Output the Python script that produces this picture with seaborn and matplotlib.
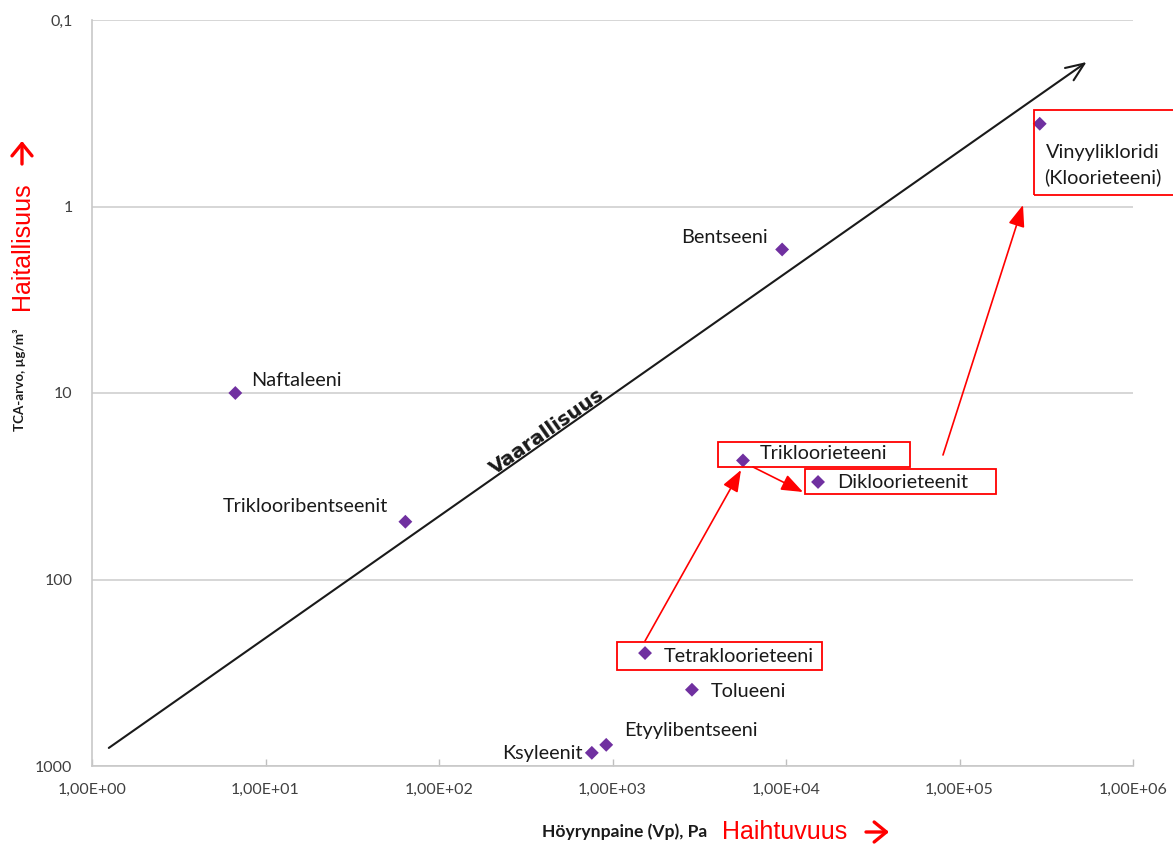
import matplotlib
matplotlib.use("Agg")
import matplotlib.pyplot as plt
import matplotlib.ticker as mticker
from matplotlib.patches import Rectangle
import seaborn as sns
import pandas as pd

# Compounds: vapour pressure (Pa) vs. indoor-air TCA value (µg/m³)
compounds = ["Naftaleeni", "Triklooribentseenit", "Bentseeni",
             "Vinyylikloridi\n(Kloorieteeni)", "Trikloorieteeni", "Dikloorieteenit",
             "Tetrakloorieteeni", "Tolueeni", "Etyylibentseeni", "Ksyleenit"]
vapour_pressure = [6.7, 64, 9500, 290000, 5650, 15300, 1540, 2870, 920, 760]
tca_value = [10, 49, 1.7, 0.36, 23, 30, 248, 390, 770, 850]

# label offsets in pixels (dx, dy up) and alignment
label_offsets = [(16, 13, "left"), (-17, 15, "right"), (-14, 12, "right"),
                 (63, -41, "center"), (17, 7, "left"), (19, -1, "left"),
                 (19, -3, "left"), (19, -2, "left"), (18, 14, "left"),
                 (-9, -1, "right")]

x_ticks = [1, 10, 100, 1000, 10000, 100000, 1000000]
x_tick_labels = ["1,00E+00", "1,00E+01", "1,00E+02", "1,00E+03",
                 "1,00E+04", "1,00E+05", "1,00E+06"]
y_ticks = [0.1, 1, 10, 100, 1000]
y_tick_labels = ["0,1", "1", "10", "100", "1000"]

df = pd.DataFrame({"compound": compounds, "vp": vapour_pressure, "tca": tca_value})

sns.set_theme(style="white")
plt.rcParams["font.family"] = ["Lato", "DejaVu Sans"]

W, H = 1173, 844
fig = plt.figure(figsize=(W / 100, H / 100), dpi=100)
ax = fig.add_axes([92 / W, 1 - 766 / H, (1133 - 92) / W, (766 - 20) / H])

sns.scatterplot(data=df, x="vp", y="tca", marker="D", s=50, color="#7030A0",
                edgecolor="none", ax=ax, zorder=5, clip_on=False)

ax.set_xscale("log")
ax.set_yscale("log")
ax.set_xlim(1, 1e6)
ax.set_ylim(1000, 0.1)

ax.xaxis.set_major_locator(mticker.FixedLocator(x_ticks))
ax.xaxis.set_major_formatter(mticker.FixedFormatter(x_tick_labels))
ax.xaxis.set_minor_locator(mticker.NullLocator())
ax.yaxis.set_major_locator(mticker.FixedLocator(y_ticks))
ax.yaxis.set_major_formatter(mticker.FixedFormatter(y_tick_labels))
ax.yaxis.set_minor_locator(mticker.NullLocator())

ax.tick_params(axis="x", direction="in", length=5, width=1, color="#bfbfbf",
               pad=12, labelcolor="#404040", bottom=True)
ax.tick_params(axis="y", length=0, pad=14, labelcolor="#404040")
for lab in ax.get_xticklabels() + ax.get_yticklabels():
    lab.set_fontfamily(["Lato", "DejaVu Sans"])
    lab.set_fontsize(11.5)

ax.grid(axis="y", color="#d0d0d0", linewidth=1.2)
ax.grid(axis="x", visible=False)
for side in ["top", "right"]:
    ax.spines[side].set_visible(False)
for side in ["left", "bottom"]:
    ax.spines[side].set_color("#c8c8c8")
    ax.spines[side].set_linewidth(1.2)
ax.set_xlabel("")
ax.set_ylabel("")

# compound labels
for (name, vp, tca), (dx, dy, ha) in zip(zip(compounds, vapour_pressure, tca_value), label_offsets):
    ax.annotate(name, xy=(vp, tca), xytext=(dx * 0.72, dy * 0.72),
                textcoords="offset points", ha=ha, va="center",
                fontsize=14.3, color="#1a1a1a", linespacing=1.5, zorder=6)

# diagonal hazard arrow
ax.annotate("", xy=(5.4e5, 0.168), xytext=(1.25, 800), xycoords="data",
            arrowprops=dict(arrowstyle="->,head_length=1.1,head_width=0.45",
                            color="#1a1a1a", lw=1.5, shrinkA=0, shrinkB=0),
            annotation_clip=False, zorder=4)
fig.text(550 / W, 1 - 436 / H, "Vaarallisuus", rotation=35.05, rotation_mode="anchor",
         ha="center", va="baseline", fontsize=14.2, fontweight="bold",
         family=["DejaVu Sans"], color="#1a1a1a")

# red highlight boxes (figure pixels)
boxes = [(718, 442, 910, 467), (805, 469, 996, 494),
         (617, 642, 822, 670), (1034, 110, 1180, 195)]
for x0, y0, x1, y1 in boxes:
    fig.patches.append(Rectangle((x0 / W, 1 - y1 / H), (x1 - x0) / W, (y1 - y0) / H,
                                 transform=fig.transFigure, fill=False,
                                 edgecolor="#ff0000", linewidth=1.3, zorder=7))

# red arrows linking related chlorinated compounds
red_arrows = [((645, 641), (741, 470)), ((753, 467), (803, 492)), ((943, 455), (1023, 205))]
for (sx, sy), (ex, ey) in red_arrows:
    ax.annotate("", xy=(ex, H - ey), xytext=(sx, H - sy),
                xycoords="figure pixels", textcoords="figure pixels",
                arrowprops=dict(arrowstyle="-|>,head_length=1.1,head_width=0.42",
                                color="#ff0000", lw=1.2, shrinkA=0, shrinkB=0),
                annotation_clip=False, zorder=8)

# axis titles
narrow = ["Liberation Sans Narrow", "Liberation Sans", "DejaVu Sans"]
fig.text(20 / W, 1 - 380 / H, "TCA-arvo, µg/m³", rotation=90, ha="center", va="center",
         fontsize=9.6, fontweight="bold", family=["Lato", "DejaVu Sans"], color="#1a1a1a")
fig.text(22 / W, 1 - 246 / H, "Haitallisuus", rotation=90, ha="center", va="center",
         fontsize=18, family=narrow, color="#ff0000")
fig.text(625 / W, 1 - 832 / H, "Höyrynpaine (Vp), Pa", ha="center", va="center",
         fontsize=12.6, fontweight="bold", family=["Lato", "DejaVu Sans"], color="#1a1a1a")
fig.text(722 / W, 1 - 832 / H, "Haihtuvuus", ha="left", va="center",
         fontsize=18, family=narrow, color="#ff0000")

# red direction arrows next to the axis titles
for (sx, sy), (ex, ey) in [((866, 832), (889, 832)), ((22, 164), (22, 141))]:
    fig.add_artist(matplotlib.patches.FancyArrowPatch(
        (sx / W, 1 - sy / H), (ex / W, 1 - ey / H), transform=fig.transFigure,
        arrowstyle="->,head_length=0.55,head_width=0.45", mutation_scale=16,
        color="#ff0000", lw=2.4, shrinkA=0, shrinkB=0))

fig.savefig("out.png", dpi=100)
